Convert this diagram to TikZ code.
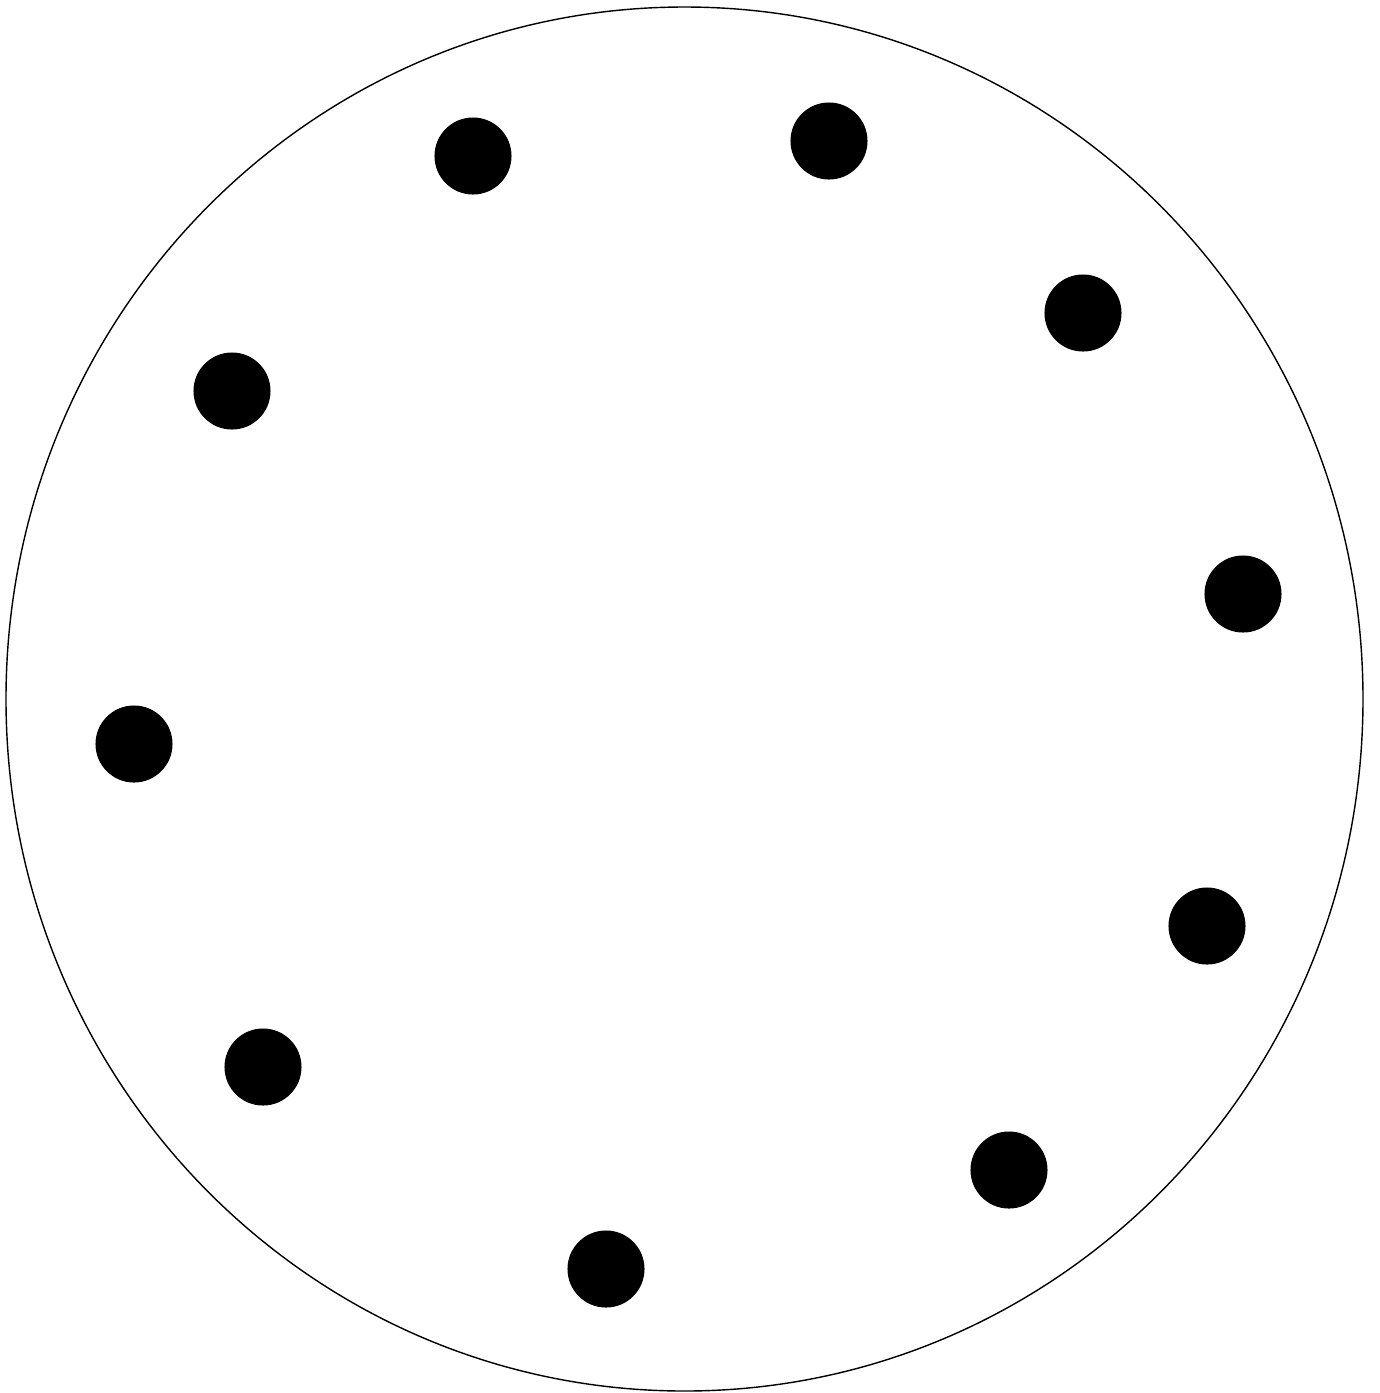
\documentclass[tikz,border=0pt]{standalone}
\usepackage{tikz}
\usetikzlibrary{positioning}

\begin{document}
\begin{tikzpicture}[x=0.01cm, y=-0.01cm, every node/.style={circle, fill=black, minimum size=0.77cm, inner sep=0pt}]

					\useasboundingbox (0,0) rectangle (1380,1393);

					% Outer circle
					\draw (684.5,699) ellipse (678.5 and 692);

					% Dots round the circle
					\node (d1) at (473,156) {};
					\node (d2) at (829,141) {};
					\node (d3) at (1083,313) {};
					\node (d4) at (1243,594) {};
					\node (d5) at (1207,926) {};
					\node (d6) at (1009,1170) {};
					\node (d7) at (606,1269) {};
					\node (d8) at (263,1067) {};
					\node (d9) at (134,744) {};
					\node (d10) at (232,391) {};

			\end{tikzpicture}
\end{document}
